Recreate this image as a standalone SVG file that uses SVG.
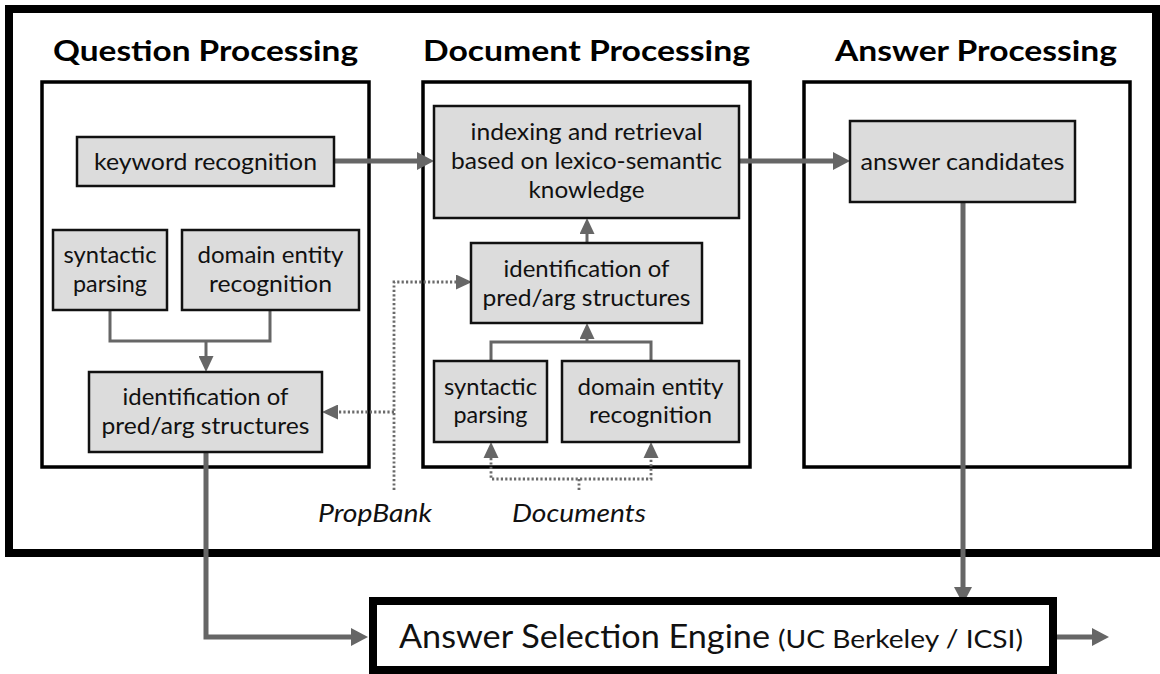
<svg xmlns="http://www.w3.org/2000/svg" width="1160" height="674" viewBox="0 0 1160 674">
<style>
text{font-family:Lato,"Open Sans","DejaVu Sans",sans-serif;fill:#111}
.title{font-size:29px;font-weight:bold;fill:#000}
.lbl{font-size:24px;text-anchor:middle}
.ital{font-size:26px;font-style:italic;text-anchor:middle}
.box{fill:#dcdcdc;stroke:#111;stroke-width:2.5}
.panel{fill:none;stroke:#000;stroke-width:3.5}
.thick{fill:none;stroke:#666;stroke-width:5}
.thin{fill:none;stroke:#666;stroke-width:3}
.dot{fill:none;stroke:#6a6a6a;stroke-width:2.8;stroke-dasharray:2.2 2.2}
</style>
<defs>
<marker id="ah" markerUnits="userSpaceOnUse" markerWidth="17" markerHeight="18" refX="0" refY="9" orient="auto"><path d="M0,0L17,9L0,18z" fill="#666"/></marker>
<marker id="ahs" markerUnits="userSpaceOnUse" markerWidth="16" markerHeight="15" refX="0" refY="7.5" orient="auto"><path d="M0,0L16,7.5L0,15z" fill="#666"/></marker>
</defs>
<rect x="9" y="9" width="1147" height="544" fill="#fff" stroke="#000" stroke-width="8"/>
<g id="panel-question">
<rect class="panel" x="42" y="82" width="327" height="385"/>
<text class="title" x="53" y="61" textLength="305" lengthAdjust="spacingAndGlyphs">Question Processing</text>
</g>
<g id="panel-document">
<rect class="panel" x="423" y="82" width="327" height="385"/>
<text class="title" x="423" y="61" textLength="327" lengthAdjust="spacingAndGlyphs">Document Processing</text>
</g>
<g id="panel-answer">
<rect class="panel" x="804" y="82" width="326" height="385"/>
<text class="title" x="835" y="61" textLength="282" lengthAdjust="spacingAndGlyphs">Answer Processing</text>
</g>
<g id="connectors">
<line class="thick" x1="334" y1="161" x2="417" y2="161" marker-end="url(#ah)"/>
<line class="thick" x1="739" y1="161" x2="833" y2="161" marker-end="url(#ah)"/>
<line class="thick" x1="963" y1="202" x2="963" y2="587" marker-end="url(#ah)"/>
<path class="thick" d="M206,452V637H351" marker-end="url(#ah)"/>
<line class="thick" x1="1057" y1="637" x2="1092" y2="637" marker-end="url(#ah)"/>
<path class="thin" d="M110,310V341H270V310"/>
<line class="thin" x1="206" y1="341" x2="206" y2="356" marker-end="url(#ahs)"/>
<path class="thin" d="M491,361V342H651V361"/>
<line class="thin" x1="587" y1="342" x2="587" y2="339" marker-end="url(#ahs)"/>
<line class="thin" x1="587" y1="243" x2="587" y2="234" marker-end="url(#ahs)"/>
<path class="dot" d="M394,490V282H456" marker-end="url(#ahs)"/>
<line class="dot" x1="394" y1="412" x2="338" y2="412" marker-end="url(#ahs)"/>
<path class="dot" d="M491,458V479H651V458"/>
<line class="dot" x1="579" y1="479" x2="579" y2="490"/>
<path d="M491,442L498.5,458H483.5z" fill="#666"/>
<path d="M651,442L658.5,458H643.5z" fill="#666"/>
</g>
<g id="keyword-recognition">
<rect class="box" x="77" y="137" width="257" height="49"/>
<text class="lbl" x="205.5" y="170" textLength="223" lengthAdjust="spacingAndGlyphs">keyword recognition</text>
</g>
<g id="q-syntactic-parsing">
<rect class="box" x="53" y="230" width="114" height="80"/>
<text class="lbl" x="110" y="263" textLength="93" lengthAdjust="spacingAndGlyphs">syntactic</text>
<text class="lbl" x="110" y="292" textLength="74" lengthAdjust="spacingAndGlyphs">parsing</text>
</g>
<g id="q-domain-entity">
<rect class="box" x="182" y="230" width="177" height="80"/>
<text class="lbl" x="270.5" y="263" textLength="146" lengthAdjust="spacingAndGlyphs">domain entity</text>
<text class="lbl" x="270.5" y="292" textLength="123" lengthAdjust="spacingAndGlyphs">recognition</text>
</g>
<g id="q-predarg">
<rect class="box" x="89" y="372" width="233" height="80"/>
<text class="lbl" x="205.5" y="405" textLength="166" lengthAdjust="spacingAndGlyphs">identification of</text>
<text class="lbl" x="205.5" y="434" textLength="208" lengthAdjust="spacingAndGlyphs">pred/arg structures</text>
</g>
<g id="indexing">
<rect class="box" x="434" y="106" width="305" height="112"/>
<text class="lbl" x="586.5" y="140" textLength="232" lengthAdjust="spacingAndGlyphs">indexing and retrieval</text>
<text class="lbl" x="586.5" y="169" textLength="271" lengthAdjust="spacingAndGlyphs">based on lexico-semantic</text>
<text class="lbl" x="586.5" y="198" textLength="116" lengthAdjust="spacingAndGlyphs">knowledge</text>
</g>
<g id="d-predarg">
<rect class="box" x="471" y="243" width="231" height="80"/>
<text class="lbl" x="586.5" y="277" textLength="166" lengthAdjust="spacingAndGlyphs">identification of</text>
<text class="lbl" x="586.5" y="306" textLength="208" lengthAdjust="spacingAndGlyphs">pred/arg structures</text>
</g>
<g id="d-syntactic-parsing">
<rect class="box" x="434" y="361" width="113" height="81"/>
<text class="lbl" x="490.5" y="395" textLength="93" lengthAdjust="spacingAndGlyphs">syntactic</text>
<text class="lbl" x="490.5" y="423" textLength="74" lengthAdjust="spacingAndGlyphs">parsing</text>
</g>
<g id="d-domain-entity">
<rect class="box" x="562" y="361" width="177" height="81"/>
<text class="lbl" x="650.5" y="395" textLength="146" lengthAdjust="spacingAndGlyphs">domain entity</text>
<text class="lbl" x="650.5" y="423" textLength="123" lengthAdjust="spacingAndGlyphs">recognition</text>
</g>
<g id="answer-candidates">
<rect class="box" x="850" y="121" width="225" height="81"/>
<text class="lbl" x="962.5" y="170" textLength="204" lengthAdjust="spacingAndGlyphs">answer candidates</text>
</g>
<g id="propbank">
<text class="ital" x="375" y="522" textLength="114" lengthAdjust="spacingAndGlyphs">PropBank</text>
</g>
<g id="documents">
<text class="ital" x="579" y="522" textLength="134" lengthAdjust="spacingAndGlyphs">Documents</text>
</g>
<g id="answer-selection-engine">
<rect x="373" y="601" width="680" height="69" fill="#fff" stroke="#000" stroke-width="8"/>
<text x="399" y="648" style="font-size:33px" textLength="371" lengthAdjust="spacingAndGlyphs">Answer Selection Engine</text>
<text x="778" y="648" style="font-size:25px" textLength="245" lengthAdjust="spacingAndGlyphs">(UC Berkeley / ICSI)</text>
</g>
</svg>
